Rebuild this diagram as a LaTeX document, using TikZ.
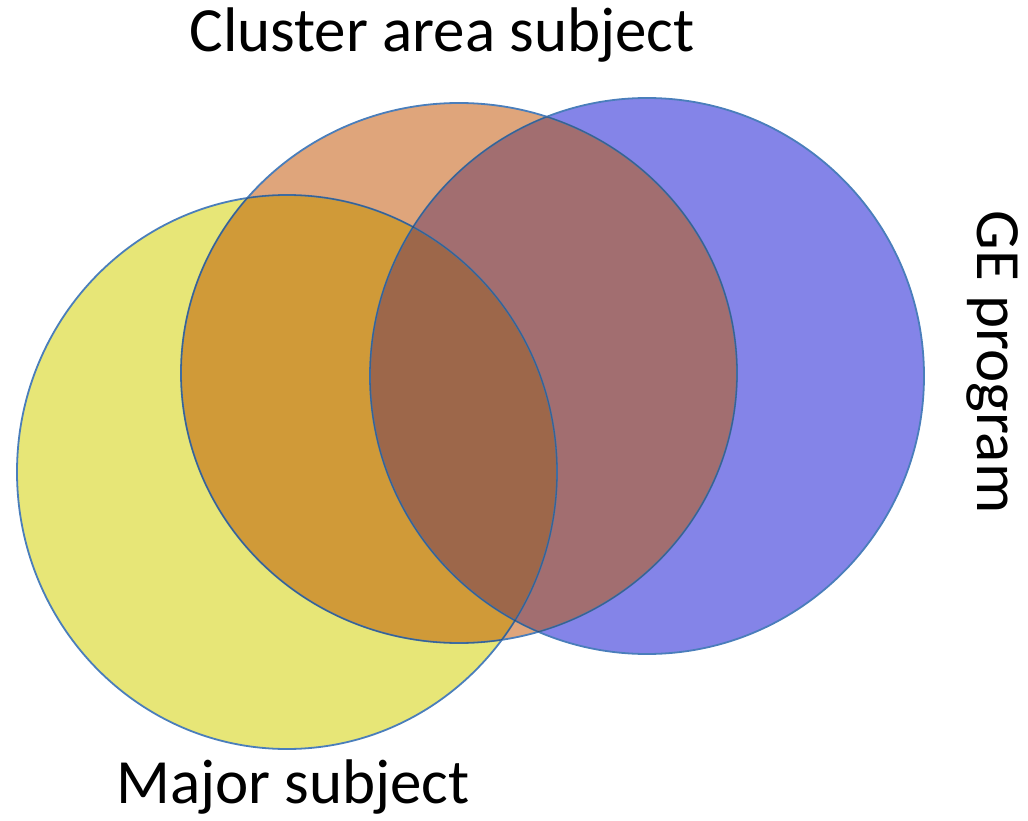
\documentclass[tikz,border=0pt]{standalone}
\usepackage{fontspec}
\setmainfont{Carlito}
\definecolor{yonly}{HTML}{E7E677}
\definecolor{oonly}{HTML}{DFA57B}
\definecolor{bonly}{HTML}{8484E8}
\definecolor{yo}{HTML}{D09A38}
\definecolor{ob}{HTML}{A26E70}
\definecolor{yob}{HTML}{9D674A}
\definecolor{edge}{HTML}{4A7EBB}
\tikzset{
  lbl/.style={font=\fontsize{63}{75}\selectfont, inner sep=0pt, text height=41pt, text depth=12pt},
  rim/.style={draw=edge, line width=1.8pt},
  innerrim/.style={draw=black, draw opacity=0.22, line width=1.3pt}
}
\begin{document}
\begin{tikzpicture}[x=1pt,y=-1pt]
\useasboundingbox (0,0) rectangle (1028,821);
\def\Y{(287,472) ellipse [x radius=270, y radius=277]}
\def\O{(459,373) ellipse [x radius=278, y radius=270]}
\def\B{(647,376) ellipse [x radius=277, y radius=278]}
\fill[yonly] \Y;
\fill[bonly] \B;
\fill[oonly] \O;
\begin{scope}
  \clip \Y;
  \fill[yo] \O;
\end{scope}
\begin{scope}
  \clip \O;
  \fill[ob] \B;
\end{scope}
\begin{scope}
  \clip \Y; \clip \O;
  \fill[yob] \B;
\end{scope}
% outlines
\draw[rim] \Y;
\draw[rim] \B;
\draw[rim] \O;
\begin{scope}
  \clip \O;
  \draw[innerrim] \Y;
  \draw[innerrim] \B;
\end{scope}
\begin{scope}
  \clip \B;
  \draw[innerrim] \O;
\end{scope}
\begin{scope}
  \clip \Y;
  \draw[innerrim] \O;
\end{scope}
\node[lbl, anchor=base] (cluster) at (442,52) {Cluster area subject};
\node[lbl, anchor=base] (major) at (293,803) {Major subject};
\node[lbl, anchor=base, rotate=-90] (ge) at (977,362) {GE program};
\end{tikzpicture}
\end{document}
